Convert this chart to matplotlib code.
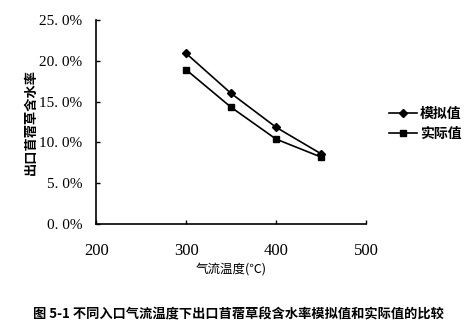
import matplotlib
matplotlib.use("Agg")
import matplotlib.pyplot as plt
from matplotlib.ticker import FuncFormatter

plt.rcParams['font.family'] = ['Noto Sans CJK SC', 'DejaVu Sans']

temps = [300, 350, 400, 450]
simulated = [20.9, 16.0, 11.85, 8.6]
measured = [18.9, 14.3, 10.4, 8.2]
series_names = ["模拟值", "实际值"]

fig = plt.figure(figsize=(4.76, 3.27), dpi=100)
ax = fig.add_axes([0.202, 0.315, 0.567, 0.624])

ax.plot(temps, simulated, color='black', lw=1.2, marker='D', ms=4, label=series_names[0])
ax.plot(temps, measured, color='black', lw=1.2, marker='s', ms=4.5, label=series_names[1])

ax.set_xlim(200, 500)
ax.set_ylim(0, 25)
ax.set_xticks([200, 300, 400, 500])
ax.set_yticks([0, 5, 10, 15, 20, 25])
ax.yaxis.set_major_formatter(FuncFormatter(lambda v, p: f"{v:.1f}%".replace(".", ". ")))

ax.spines['top'].set_visible(False)
ax.spines['right'].set_visible(False)
ax.spines['left'].set_linewidth(1.2)
ax.spines['bottom'].set_linewidth(1.2)
ax.tick_params(direction='in', length=3, width=1, labelsize=11)
ax.tick_params(axis='y', pad=10)
ax.tick_params(axis='x', pad=14, labelsize=12)
for lbl in ax.get_xticklabels() + ax.get_yticklabels():
    lbl.set_family(['Liberation Serif'])

ax.set_xlabel("气流温度(℃)", fontsize=9, labelpad=2)
ax.set_ylabel("出口苜蓿草含水率", fontsize=9.5, fontweight='bold')
ax.yaxis.set_label_coords(-0.215, 0.5)

ax.legend(loc='center left', bbox_to_anchor=(1.04, 0.49), frameon=False,
          handlelength=2.0, handletextpad=0.2, labelspacing=0.45,
          prop={'weight': 'bold', 'size': 10})

fig.text(0.5, 0.037, "图 5-1 不同入口气流温度下出口苜蓿草段含水率模拟值和实际值的比较",
         ha='center', va='center', fontsize=9.5, fontweight='bold')

fig.savefig("out.png", dpi=100)
